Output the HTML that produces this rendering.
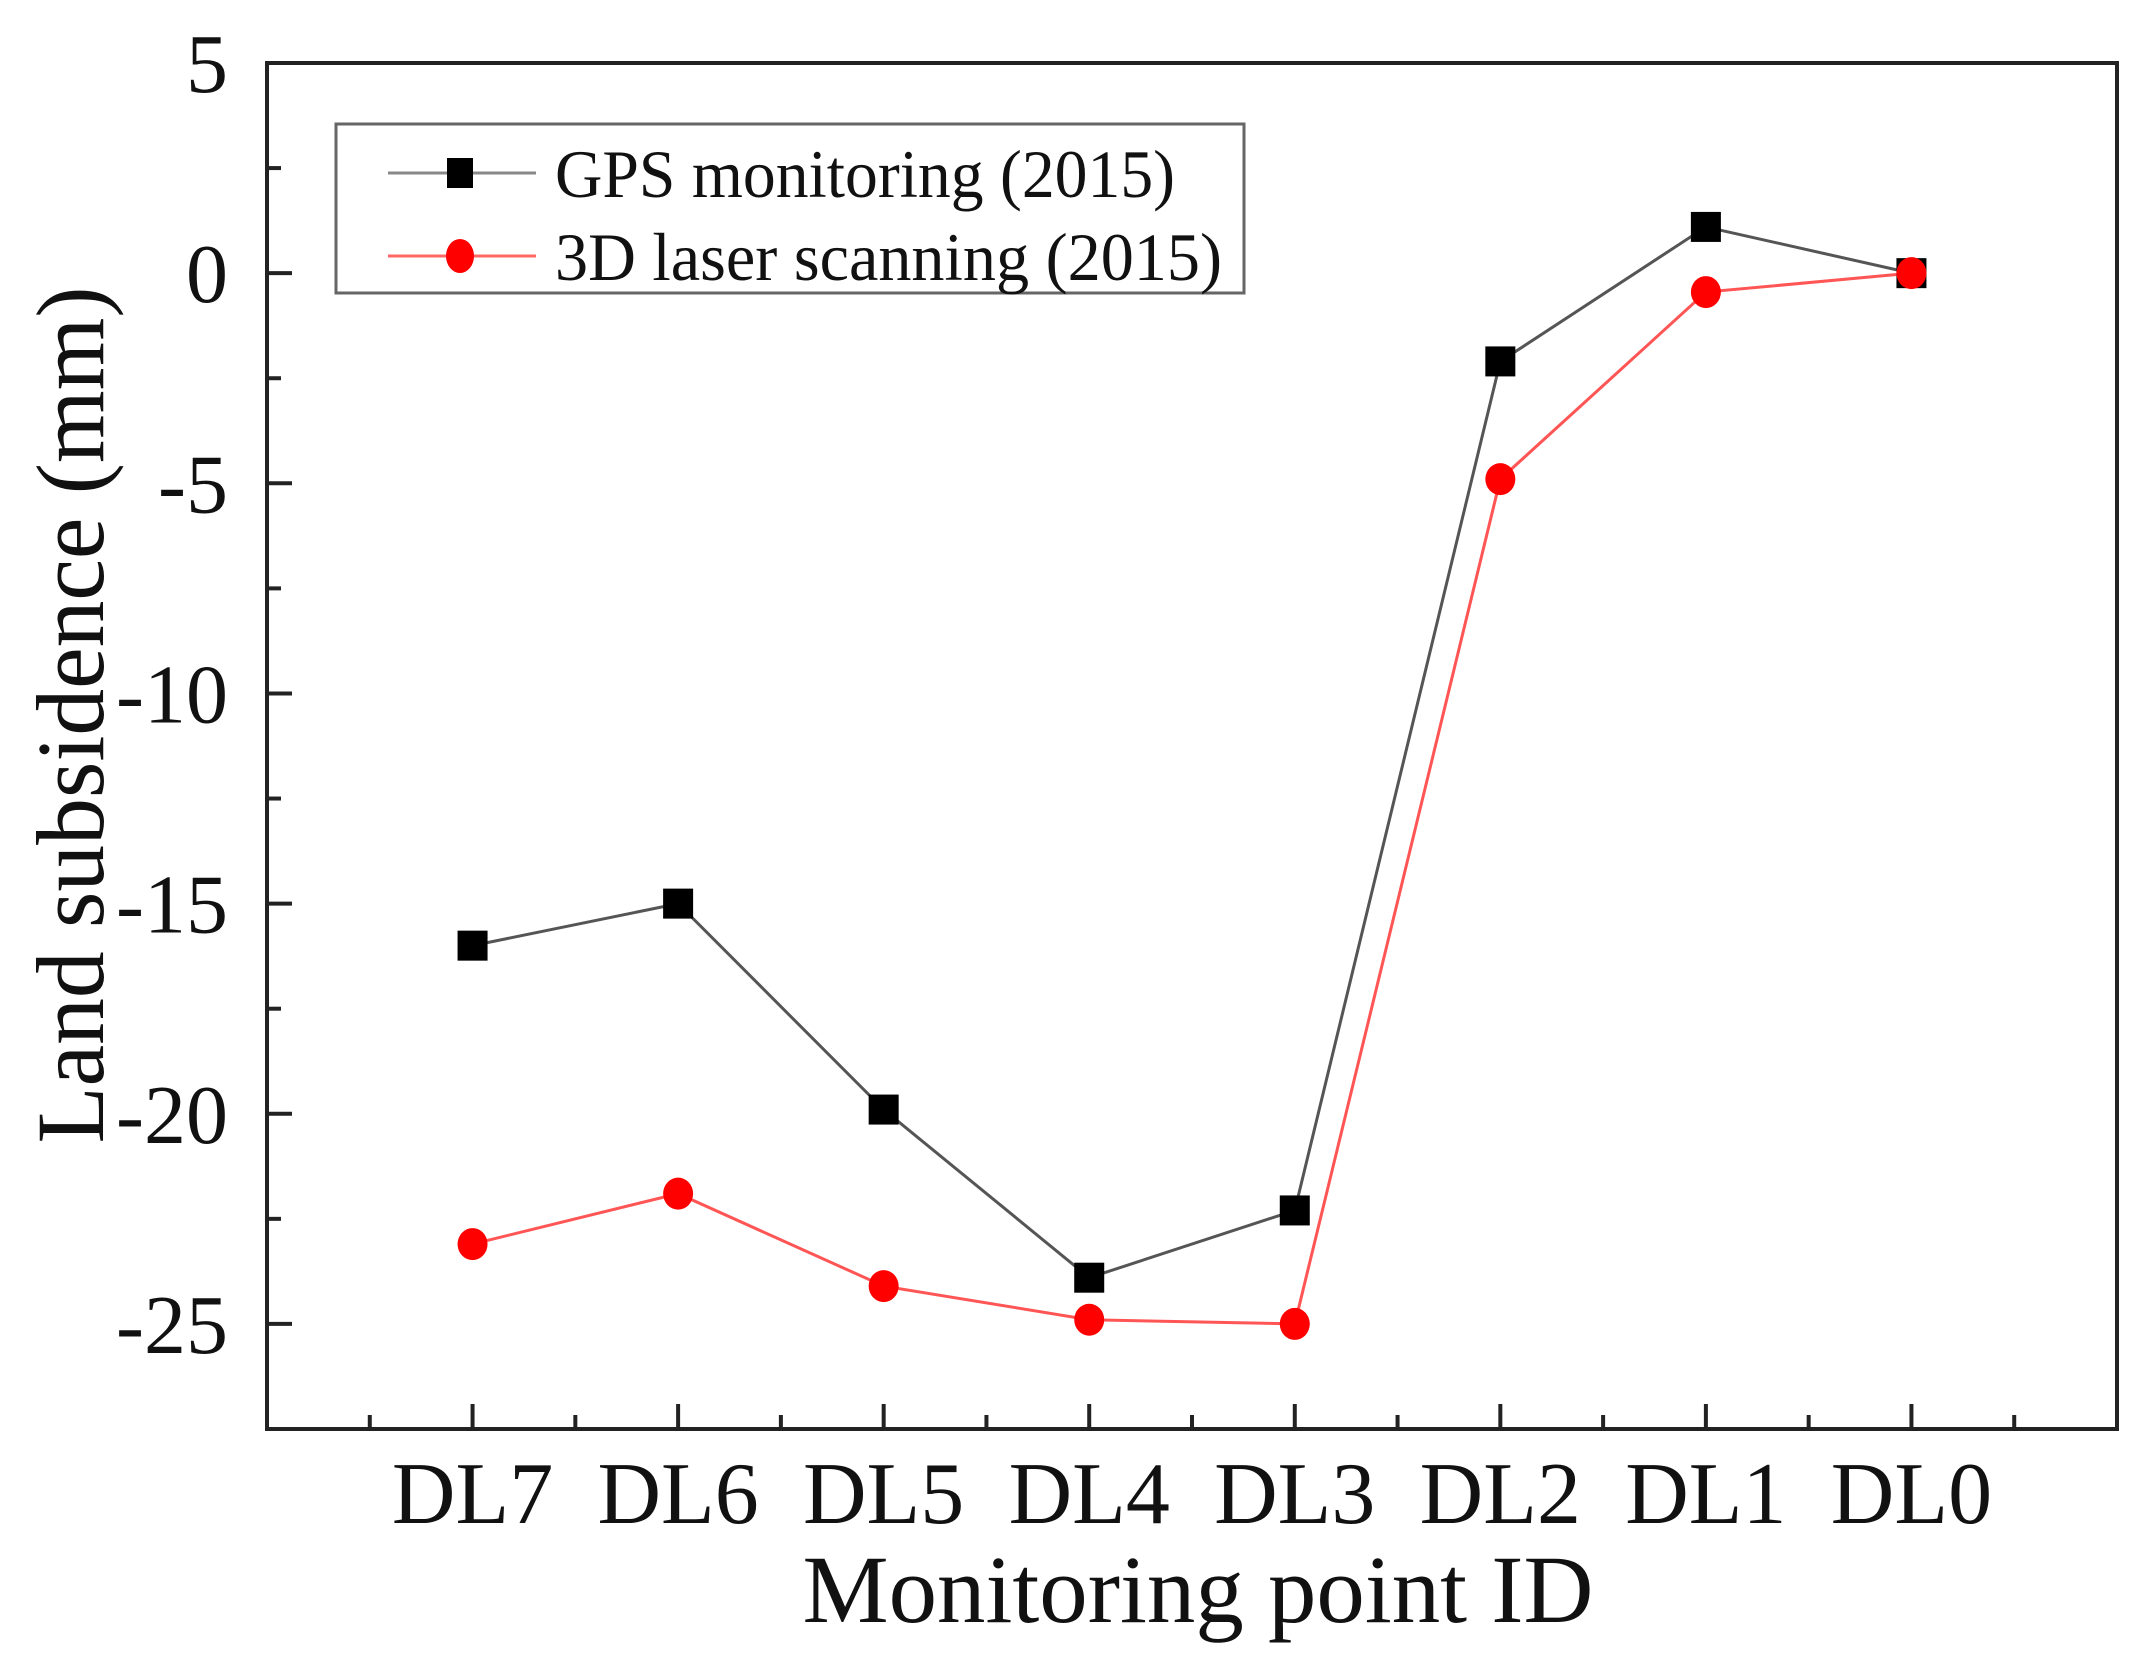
<!DOCTYPE html>
<html><head><meta charset="utf-8"><style>
html,body{margin:0;padding:0;background:#fff;}
svg{display:block;font-family:"Liberation Serif",serif;}
</style></head><body>
<svg id="chart" width="2150" height="1662" viewBox="0 0 2150 1662" xmlns="http://www.w3.org/2000/svg">
<g id="axes"></g>
<g id="series"></g>
<g id="legend">
  <rect x="336" y="124" width="908" height="169" fill="#fff" stroke="#666" stroke-width="3"/>
  <line x1="388" y1="173" x2="536" y2="173" stroke="#888" stroke-width="3"/>
  <rect x="447" y="158" width="26" height="30" fill="#000"/>
  <text x="555" y="197" font-size="68" textLength="620" lengthAdjust="spacingAndGlyphs" fill="#111">GPS monitoring (2015)</text>
  <line x1="388" y1="256" x2="536" y2="256" stroke="#ff6666" stroke-width="3"/>
  <ellipse cx="460" cy="256" rx="14" ry="17" fill="#f00"/>
  <text x="555" y="280" font-size="68" textLength="667" lengthAdjust="spacingAndGlyphs" fill="#111">3D laser scanning (2015)</text>
</g>
<text x="0" y="0" font-size="96" text-anchor="middle" textLength="857" lengthAdjust="spacingAndGlyphs" transform="translate(103,715) rotate(-90)" fill="#111">Land subsidence (mm)</text>
<text x="1198" y="1622" font-size="96" text-anchor="middle" textLength="791" lengthAdjust="spacingAndGlyphs" fill="#111">Monitoring point ID</text>
</svg>
<script>
const categories = ["DL7","DL6","DL5","DL4","DL3","DL2","DL1","DL0"];
const gpsValues = [-16, -15, -19.9, -23.9, -22.3, -2.1, 1.1, 0];
const laserValues = [-23.1, -21.9, -24.1, -24.9, -25, -4.9, -0.45, 0];
const yTickLabels = ["5","0","-5","-10","-15","-20","-25"];
const yTickValues = [5, 0, -5, -10, -15, -20, -25];

const NS = "http://www.w3.org/2000/svg";
const L = 267, R = 2117, T = 63, B = 1429;
const xMin = -1, xMax = 8, yMin = -27.5, yMax = 5;
function xs(i){ return L + (i - xMin) / (xMax - xMin) * (R - L); }
function ys(v){ return B - (v - yMin) / (yMax - yMin) * (B - T); }
function mk(tag, attrs, parent){ const e = document.createElementNS(NS, tag); for (const k in attrs) e.setAttribute(k, attrs[k]); parent.appendChild(e); return e; }

const axes = document.getElementById('axes');
const frame = mk('rect', {x:L, y:T, width:R-L, height:B-T, fill:'none', stroke:'#222', 'stroke-width':4}, axes);



for (let v = yMin + 2.5; v <= yMax; v += 2.5) {
  const major = Math.abs(v % 5) < 1e-6;
  const t = mk('line', {x1:L, x2:L + (major ? 25 : 14), y1:ys(v), y2:ys(v), stroke:'#222', 'stroke-width':4}, axes);
  
  
}
yTickValues.forEach((v, i) => {
  const t = mk('text', {x:228, y:ys(v) + 29, 'font-size':84, 'text-anchor':'end', fill:'#111'}, axes);
  t.textContent = yTickLabels[i];
  
  
});
for (let i = xMin; i <= xMax; i += 0.5) {
  const major = Math.abs(i % 1) < 1e-6;
  if (i === xMin || i === xMax) continue;
  const t = mk('line', {x1:xs(i), x2:xs(i), y1:B, y2:B - (major ? 25 : 14), stroke:'#222', 'stroke-width':4}, axes);
  
  
}
categories.forEach((c, i) => {
  const t = mk('text', {x:xs(i), y:1523, 'font-size':88, 'text-anchor':'middle', fill:'#111'}, axes);
  t.textContent = c;
  
  
});

const series = document.getElementById('series');
function drawLine(vals, color, name){
  const pts = vals.map((v, i) => xs(i) + ',' + ys(v)).join(' ');
  const p = mk('polyline', {points:pts, fill:'none', stroke:color, 'stroke-width':3}, series);
  
  
}
drawLine(gpsValues, '#555', 'gps-line');
drawLine(laserValues, '#ff5555', 'laser-line');
gpsValues.forEach((v, i) => {
  const r = mk('rect', {x:xs(i) - 15, y:ys(v) - 15, width:30, height:30, fill:'#000'}, series);
  
  
});
laserValues.forEach((v, i) => {
  const c = mk('ellipse', {cx:xs(i), cy:ys(v), rx:15, ry:16, fill:'#f00'}, series);
  
  
});
</script>
</body></html>
